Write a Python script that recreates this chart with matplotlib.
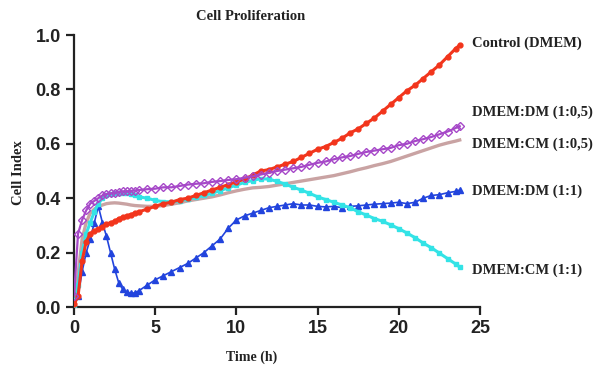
import numpy as np
import matplotlib.pyplot as plt

# sampling times (h): every 15 min early on, then every 30 min
time_h = np.r_[np.arange(0, 4, 0.25), np.arange(4, 24, 0.5), 23.75]

control_dmem = [0.01, 0.04, 0.17, 0.24, 0.27, 0.28, 0.285, 0.295, 0.305, 0.31, 0.315, 0.325, 0.33, 0.335, 0.34, 0.345,
                0.35, 0.36, 0.37, 0.38, 0.385, 0.395, 0.40, 0.41, 0.42, 0.43, 0.44, 0.45, 0.46, 0.47, 0.485, 0.50,
                0.505, 0.515, 0.525, 0.535, 0.55, 0.565, 0.58, 0.59, 0.605, 0.62, 0.64, 0.655, 0.675, 0.695, 0.72,
                0.745, 0.77, 0.795, 0.815, 0.84, 0.865, 0.89, 0.92, 0.95, 0.963]

dm_half = [0.04, 0.27, 0.32, 0.355, 0.38, 0.39, 0.40, 0.41, 0.415, 0.418, 0.42, 0.422, 0.425, 0.425, 0.427, 0.428,
           0.43, 0.433, 0.435, 0.44, 0.44, 0.445, 0.45, 0.453, 0.455, 0.46, 0.463, 0.467, 0.47, 0.475, 0.48, 0.487,
           0.493, 0.50, 0.505, 0.51, 0.515, 0.523, 0.53, 0.535, 0.543, 0.55, 0.555, 0.563, 0.57, 0.575, 0.58,
           0.585, 0.595, 0.60, 0.61, 0.617, 0.625, 0.635, 0.645, 0.658, 0.665]

cm_half = [0.0, 0.12, 0.25, 0.31, 0.345, 0.36, 0.37, 0.375, 0.38, 0.382, 0.383, 0.382, 0.38, 0.378, 0.375, 0.373,
           0.372, 0.37, 0.37, 0.373, 0.378, 0.383, 0.39, 0.395, 0.40, 0.405, 0.412, 0.42, 0.427, 0.433, 0.438, 0.44,
           0.443, 0.448, 0.453, 0.458, 0.463, 0.468, 0.473, 0.478, 0.483, 0.49, 0.497, 0.505, 0.512, 0.52, 0.527,
           0.535, 0.545, 0.555, 0.565, 0.575, 0.585, 0.595, 0.603, 0.61, 0.614]

dm_full = [0.0, 0.04, 0.13, 0.20, 0.25, 0.31, 0.37, 0.31, 0.26, 0.20, 0.14, 0.09, 0.065, 0.055, 0.05, 0.052,
           0.06, 0.08, 0.10, 0.115, 0.13, 0.145, 0.16, 0.18, 0.20, 0.225, 0.25, 0.29, 0.32, 0.335, 0.345, 0.355,
           0.365, 0.37, 0.375, 0.38, 0.375, 0.375, 0.37, 0.368, 0.37, 0.365, 0.37, 0.372, 0.375, 0.378, 0.38,
           0.382, 0.385, 0.38, 0.385, 0.40, 0.41, 0.413, 0.42, 0.425, 0.43]

cm_full = [0.0, 0.08, 0.20, 0.27, 0.31, 0.35, 0.38, 0.40, 0.41, 0.415, 0.42, 0.42, 0.42, 0.418, 0.415, 0.41,
           0.405, 0.40, 0.392, 0.387, 0.387, 0.39, 0.397, 0.403, 0.41, 0.418, 0.428, 0.438, 0.448, 0.458, 0.465,
           0.472, 0.47, 0.462, 0.452, 0.44, 0.43, 0.418, 0.405, 0.395, 0.385, 0.375, 0.365, 0.35, 0.338, 0.325,
           0.315, 0.302, 0.288, 0.272, 0.255, 0.235, 0.218, 0.198, 0.178, 0.158, 0.147]

labels = ["Control (DMEM)", "DMEM:DM (1:0,5)", "DMEM:CM (1:0,5)", "DMEM:DM (1:1)", "DMEM:CM (1:1)"]
label_px = [43, 112, 144, 191, 270]  # label row heights, pixels from the top

W, H = 593, 365
fig = plt.figure(figsize=(W / 100, H / 100), dpi=100)
ax = fig.add_axes([74 / W, 1 - 307 / H, 406 / W, 272 / H])

ax.plot(time_h, cm_half, color="#c9a3a3", lw=2.4, zorder=2)
ax.plot(time_h, dm_full, color="#2244dd", lw=1.2, marker="^", ms=3.8, zorder=3)
ax.plot(time_h, cm_full, color="#33e3e6", lw=2.2, marker="s", ms=3.2, zorder=3)
ax.plot(time_h, control_dmem, color="#f2351c", lw=2.2, marker="o", ms=3.5, zorder=4)
ax.plot(time_h, dm_half, color="#a648c8", lw=1.6, marker="D", ms=4, mfc="none", mew=1.0, zorder=5)

ax.set_xlim(0, 25)
ax.set_ylim(0, 1.0)
ax.set_xticks([0, 5, 10, 15, 20, 25])
ax.set_yticks([0.0, 0.2, 0.4, 0.6, 0.8, 1.0])
ax.set_yticklabels(["0.0", "0.2", "0.4", "0.6", "0.8", "1.0"])
for side in ["top", "right"]:
    ax.spines[side].set_visible(False)
for side in ["left", "bottom"]:
    ax.spines[side].set_linewidth(1.6)
    ax.spines[side].set_color("#222222")
ax.tick_params(width=1.6, length=6, color="#222222", labelsize=13, labelcolor="#222222")
for lbl in ax.get_xticklabels() + ax.get_yticklabels():
    lbl.set_fontweight("bold")
    lbl.set_family("Liberation Sans")

serif = dict(family="Liberation Serif", fontweight="bold", color="#222222")
for text, y in zip(labels, label_px):
    fig.text(472 / W, 1 - y / H, text, fontsize=10.5, ha="left", va="center", **serif)

fig.text(251 / W, 1 - 17 / H, "Cell Proliferation", ha="center", va="center", fontsize=10.5, **serif)
fig.text(252 / W, 1 - 357 / H, "Time (h)", ha="center", va="center", fontsize=10, **serif)
fig.text(19 / W, 1 - 173 / H, "Cell Index", ha="center", va="center", rotation=90, fontsize=10.5, **serif)

fig.savefig("out.png", dpi=100, facecolor="white")
